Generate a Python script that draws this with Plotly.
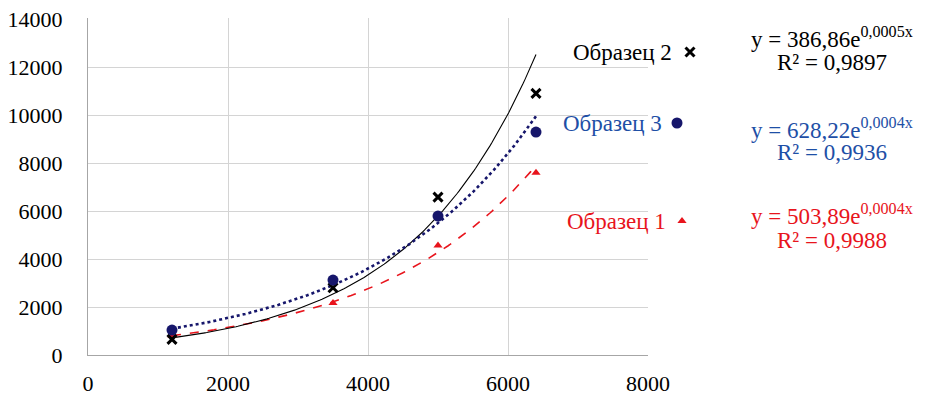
import numpy as np
import plotly.graph_objects as go

# ---- data ----
x_vals = [1200, 3500, 5000, 6400]
s1_y = [800, 2170, 4560, 7590]      # Образец 1
s2_y = [650, 2800, 6580, 10900]     # Образец 2
s3_y = [1040, 3120, 5790, 9290]     # Образец 3

series_names = ["Образец 1", "Образец 2", "Образец 3"]
equations = ["y = 503,89e<sup>0,0004x</sup>", "y = 386,86e<sup>0,0005x</sup>", "y = 628,22e<sup>0,0004x</sup>"]
r2_texts = ["R² = 0,9988", "R² = 0,9897", "R² = 0,9936"]
x_ticks = [0, 2000, 4000, 6000, 8000]
y_ticks = [0, 2000, 4000, 6000, 8000, 10000, 12000, 14000]
x_title = "ΔP, Па"

FONT = "Liberation Serif, Times New Roman, serif"
RED = "#E8141C"
BLACK = "#000000"
NAVY = "#16166B"
BLUE = "#1E4FA6"

W, H = 945, 397          # window size
OFF = 8                  # default page body margin
FW, FH = W - OFF, H - OFF
PL, PR, PT, PB = 88, 648, 18, 355   # plot area in screen pixels (1px headroom above 14000)

fig = go.Figure()

def exp_fit(xs, ys):
    xs = np.array(xs, float)
    ys = np.array(ys, float)
    b, ln_a = np.polyfit(xs, np.log(ys), 1)
    xx = np.linspace(xs.min(), xs.max(), 200)
    return xx, np.exp(ln_a) * np.exp(b * xx)

styles = [
    dict(y=s1_y, color=RED, symbol="triangle-up", size=8, dash="dash", lw=1.6),
    dict(y=s2_y, color=BLACK, symbol="x-thin", size=9, dash="solid", lw=1.1),
    dict(y=s3_y, color=NAVY, symbol="circle", size=11, dash="dot", lw=2.6),
]

def make_marker(st):
    m = dict(color=st["color"], symbol=st["symbol"], size=st["size"])
    if st["symbol"] == "x-thin":
        m["line"] = dict(color=st["color"], width=3)
    return m

for st in styles:
    xx, yy = exp_fit(x_vals, st["y"])
    fig.add_trace(go.Scatter(x=xx, y=yy, mode="lines",
                             line=dict(color=st["color"], width=st["lw"], dash=st["dash"]),
                             showlegend=False, hoverinfo="skip"))
for st in styles:
    fig.add_trace(go.Scatter(x=x_vals, y=st["y"], mode="markers", marker=make_marker(st),
                             showlegend=False, cliponaxis=False))

# legend-like labels beside the plot, in a full-width pixel overlay axis (x2/y2)
label_pos = [(616, 221, 682), (622, 52, 690), (612, 123, 677)]
text_colors = [RED, BLACK, BLUE]
for i, name in enumerate(series_names):
    tx, ty, mx = label_pos[i]
    fig.add_annotation(xref="x2", yref="y2", x=tx, y=ty, text=name, showarrow=False,
                       font=dict(family=FONT, size=23, color=text_colors[i]),
                       xanchor="center", yanchor="middle")
    fig.add_trace(go.Scatter(x=[mx], y=[ty], mode="markers", marker=make_marker(styles[i]),
                             xaxis="x2", yaxis="y2", showlegend=False, hoverinfo="skip",
                             cliponaxis=False))

eq_pos = [(832, 214, 240), (832, 37, 62), (832, 128, 152)]
for i in range(3):
    cx, y1, y2 = eq_pos[i]
    for txt, yy in ((equations[i], y1), (r2_texts[i], y2)):
        fig.add_annotation(xref="x2", yref="y2", x=cx, y=yy, text=txt, showarrow=False,
                           font=dict(family=FONT, size=23, color=text_colors[i]),
                           xanchor="center", yanchor="middle")

fig.add_annotation(xref="x2", yref="y2", x=743, y=366, text=x_title, showarrow=False,
                   font=dict(family=FONT, size=25, color="black"),
                   xanchor="center", yanchor="middle")

grid = "#D4D4D4"
y_max = y_ticks[-1] * (PB - PT) / (PB - PT - 1)

fig.update_layout(
    width=FW, height=FH,
    margin=dict(l=PL - OFF, r=0, t=PT - OFF, b=H - PB),
    paper_bgcolor="white", plot_bgcolor="rgba(0,0,0,0)",
    font=dict(family=FONT, size=22, color="black"),
    xaxis=dict(domain=[0, (PR - PL) / (W - PL)], range=[0, 8000], tickvals=x_ticks,
               ticktext=[str(v) for v in x_ticks], automargin=False,
               showgrid=True, gridcolor=grid, gridwidth=1, zeroline=False,
               showline=True, linecolor="#A6A6A6", linewidth=1,
               ticks="outside", ticklen=9, tickcolor="rgba(0,0,0,0)",
               ticklabeloverflow="allow",
               tickfont=dict(family=FONT, size=22)),
    yaxis=dict(range=[0, y_max], tickvals=y_ticks, ticktext=[str(v) for v in y_ticks],
               automargin=False,
               showgrid=True, gridcolor=grid, gridwidth=1, zeroline=False,
               showline=True, linecolor="#A6A6A6", linewidth=1,
               ticks="outside", ticklen=20, tickcolor="rgba(0,0,0,0)",
               ticklabeloverflow="allow",
               tickfont=dict(family=FONT, size=22)),
    xaxis2=dict(domain=[0, 1], range=[PL, W], visible=False, anchor="y2", automargin=False),
    yaxis2=dict(domain=[0, 1], range=[PB, PT], visible=False, anchor="x2", automargin=False),
)

fig.write_html("out.html")
